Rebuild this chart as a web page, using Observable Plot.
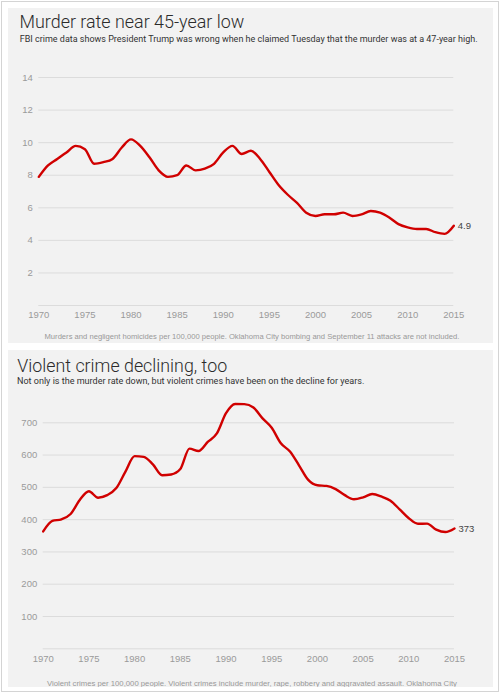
<!DOCTYPE html>
<html><head><meta charset="utf-8">
<script src="https://cdn.jsdelivr.net/npm/d3@7"></script>
<script src="https://cdn.jsdelivr.net/npm/@observablehq/plot@0.6"></script>
<style>
body{margin:0;background:#fff;font-family:Roboto,"Liberation Sans",Arial,sans-serif;}
#frame{position:absolute;left:1px;top:1px;width:496px;height:689px;border:1px solid #d4d4d4;}
.panel{position:absolute;left:8px;width:485px;background:#f2f2f2;overflow:hidden;}
.title,.sub,.cap{position:absolute;white-space:nowrap;}
.title{color:#2b2b2b;font-weight:300;}
.sub{color:#333;}
.cap{color:#999;}
.chart{position:absolute;left:0;}
</style>
</head><body>
<div id="frame"></div>
<div class="panel" id="p1" style="top:8px;height:335px;"></div>
<div class="panel" id="p2" style="top:350px;height:337px;"></div>
<script>
const years = d3.range(1970, 2016);
const murderRate = [7.9,8.6,9.0,9.4,9.8,9.6,8.7,8.8,9.0,9.7,10.2,9.8,9.1,8.3,7.9,8.0,8.6,8.3,8.4,8.7,9.4,9.8,9.3,9.5,9.0,8.2,7.4,6.8,6.3,5.7,5.5,5.6,5.6,5.7,5.5,5.6,5.8,5.7,5.4,5.0,4.8,4.7,4.7,4.5,4.4,4.9];
const violentRate = [363.5,396.0,401.0,417.4,461.1,487.8,467.8,475.9,497.8,548.9,596.6,594.3,571.1,537.7,539.9,556.6,620.1,612.5,640.6,666.9,729.6,758.2,757.7,747.1,713.6,684.5,636.6,611.0,567.6,523.0,506.5,504.5,494.4,475.8,463.2,469.0,479.3,471.8,458.6,431.9,404.5,387.1,387.8,369.1,361.6,372.6];
const xTicks = [1970,1975,1980,1985,1990,1995,2000,2005,2010,2015];
const murderGrid = [0,2,4,6,8,10,12,14];
const murderTickLabels = [2,4,6,8,10,12,14];
const violentGrid = [0,100,200,300,400,500,600,700];
const violentTickLabels = [100,200,300,400,500,600,700];
const murderEndLabel = "4.9";
const violentEndLabel = "373";

const titles = [
  {title:"Murder rate near 45-year low",
   sub:"FBI crime data shows President Trump was wrong when he claimed Tuesday that the murder was at a 47-year high.",
   cap:"Murders and negligent homicides per 100,000 people. Oklahoma City bombing and September 11 attacks are not included."},
  {title:"Violent crime declining, too",
   sub:"Not only is the murder rate down, but violent crimes have been on the decline for years.",
   cap:"Violent crimes per 100,000 people. Violent crimes include murder, rape, robbery and aggravated assault. Oklahoma City"}
];

const murderData = years.map((y,i)=>({year:y, value:murderRate[i]}));
const violentData = years.map((y,i)=>({year:y, value:violentRate[i]}));

const texts = [];
function addText(panel, cls, text, left, base, w, fontFamily){
  const d = document.createElement("div");
  d.className = cls; d.textContent = text;
  d.style.fontFamily = fontFamily;
  panel.appendChild(d);
  texts.push({d, left, base, w});
}
function layoutTexts(){
  for (const t of texts){
    const d = t.d;
    d.style.fontSize = "10px"; d.style.lineHeight = "10px";
    const cw = d.getBoundingClientRect().width;
    const fs = 10 * t.w / cw;
    d.style.fontSize = fs + "px"; d.style.lineHeight = fs + "px";
    d.style.top = (t.base - 0.84 * fs) + "px";
    if (t.left === null){ d.style.left = ((485 - t.w)/2 + 2) + "px"; }
    else d.style.left = t.left + "px";
  }
}

function makeChart(data, grid, tickLabels, yDomain, endLabel, m){
  const last = data[data.length-1];
  return Plot.plot({
    width: 485, height: m.height,
    marginLeft: m.left, marginRight: m.right, marginTop: m.top, marginBottom: m.bottom,
    style:{background:"transparent", fontFamily:"'Liberation Sans', Arial, sans-serif", fontSize:"9.5px", color:"#9a9a9a", overflow:"visible"},
    x:{domain:[1970,2015]},
    y:{domain:yDomain},
    marks:[
      Plot.ruleY(grid, {stroke:"#dcdcdc", strokeWidth:1}),
      Plot.axisY(tickLabels, {tickSize:0, tickPadding:6, label:null, fill:"#9a9a9a"}),
      Plot.axisX(xTicks, {tickSize:0, tickPadding:6, label:null, tickFormat:d=>String(d), fill:"#9a9a9a"}),
      Plot.line(data, {x:"year", y:"value", stroke:"#d00000", strokeWidth:2.4, curve:"monotone-x"}),
      Plot.text([last], {x:"year", y:"value", text:()=>endLabel, dx:4, textAnchor:"start", fill:"#444", fontSize:9.5})
    ]
  });
}

const TF = "Roboto, 'Liberation Sans', Arial, sans-serif";
const CF = "'Liberation Sans', Arial, sans-serif";

const p1 = document.getElementById("p1");
addText(p1, "title", titles[0].title, 11.5, 20.3, 225, TF);
addText(p1, "sub", titles[0].sub, 11.8, 34.7, 458, TF);
const c1 = makeChart(murderData, murderGrid, murderTickLabels, [0,14], murderEndLabel,
  {height:264, left:30.3, right:39.7, top:14, bottom:22});
c1.classList.add("chart"); c1.style.top = "55px";
p1.appendChild(c1);
addText(p1, "cap", titles[0].cap, null, 331.5, 416, CF);

const p2 = document.getElementById("p2");
addText(p2, "title", titles[1].title, 9.3, 21.7, 210, TF);
addText(p2, "sub", titles[1].sub, 9.0, 34.3, 348, TF);
const c2 = makeChart(violentData, violentGrid, violentTickLabels, [0,800], violentEndLabel,
  {height:282.3, left:34.7, right:39, top:2, bottom:22});
c2.classList.add("chart"); c2.style.top = "38px";
p2.appendChild(c2);
addText(p2, "cap", titles[1].cap, null, 336.5, 411, CF);

layoutTexts();
if (document.fonts && document.fonts.ready) document.fonts.ready.then(layoutTexts);
</script>
</body></html>
